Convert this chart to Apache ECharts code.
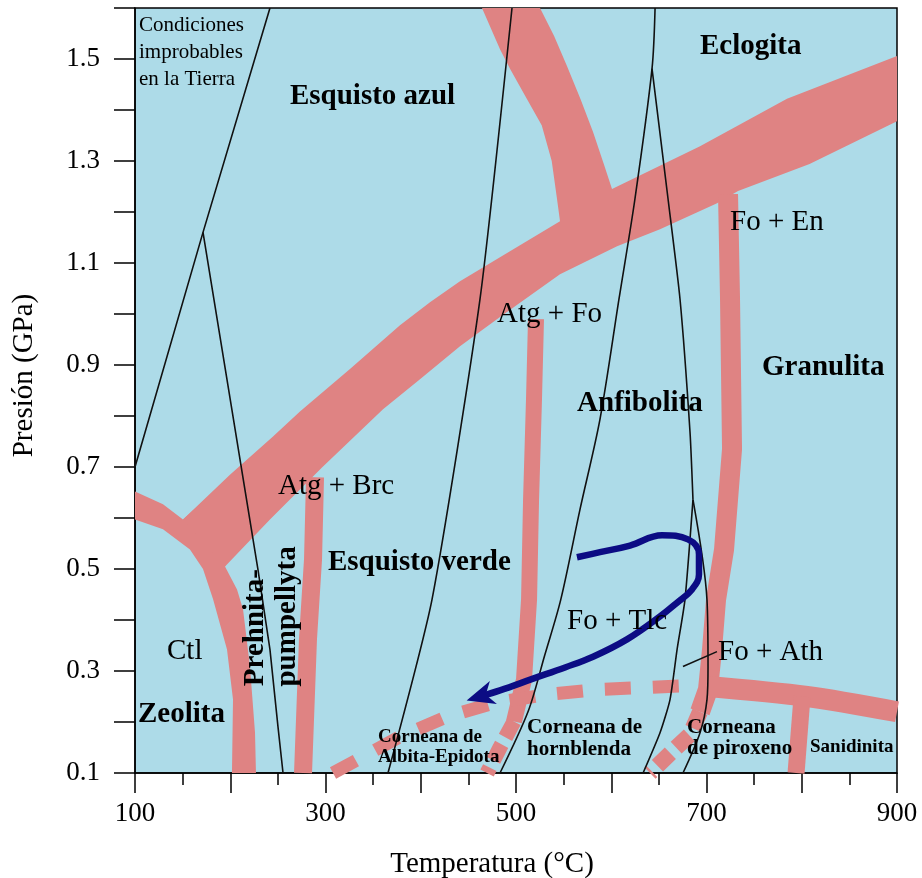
<!DOCTYPE html>
<html><head><meta charset="utf-8">
<script src="https://cdn.jsdelivr.net/npm/echarts@6.0.0/dist/echarts.min.js"></script>
<style>html,body{margin:0;padding:0;background:#fff}#c{width:922px;height:878px}</style>
</head><body><div id="c"></div>
<script>
// ---- data (temperature °C, pressure GPa) ----
const xTicks = [100, 300, 500, 700, 900];
const yTicks = [0.1, 0.3, 0.5, 0.7, 0.9, 1.1, 1.3, 1.5];

// big band: greenschist/blueschist boundary + blueschist/eclogite branch (outline)
const blueschistBand = [[150.4,0.597],[199.7,0.685],[244.9,0.760],[273.2,0.809],[325.7,0.892],[378.2,0.978],[409.7,1.023],[441.2,1.064],[493.7,1.123],[546.2,1.182],
  [543.1,1.225],[537.5,1.300],[527,1.370],[511.6,1.421],[494,1.480],[483.2,1.519],[464.3,1.6],[525.2,1.6],[540,1.545],[553.6,1.486],[568,1.420],[580.9,1.357],[592,1.295],[600.8,1.245],
  [693.2,1.329],[784.5,1.422],[900,1.506],[900,1.378],[808.2,1.294],[733.1,1.241],[711.1,1.217],[651.2,1.166],[606.1,1.133],
  [546.2,1.078],[483.2,0.994],[441.2,0.937],[399.2,0.872],[360.4,0.813],[296.3,0.699],[241.7,0.597],[194.5,0.505]];
// zeolite band (left branch + descending limb)
const zeoliteBand = [[100,0.652],[129.4,0.627],[150.4,0.597],[173.5,0.636],[210.2,0.578],[194.5,0.505],[207.1,0.460],[213.4,0.421],
  [220.7,0.309],[226,0.179],[227,0.10],[201.8,0.10],[202.9,0.244],[196.6,0.342],[181.9,0.441],[171.4,0.50],[157.7,0.538],[129.4,0.578],[100,0.597]];
const atgBrcBand = [[289,0.680],[286.9,0.519],[281.6,0.362],[276.4,0.10]];
const atgFoBand = [[521,0.990],[518.9,0.833],[515.8,0.636],[513.7,0.440],[508.4,0.283],[497.9,0.201]];
const atgFoDashed = [[497.9,0.201],[483.2,0.150],[469.6,0.10]];
const foEnBand = [[722.6,1.235],[724.7,1.029],[726.8,0.735],[718.4,0.538],[710,0.440],[705.8,0.342],[701.6,0.264],[693.2,0.220]];
const sanidiniteTopBand = [[698.4,0.270],[805.5,0.250],[900,0.220]];
const sanidiniteBand = [[800.3,0.250],[794,0.10]];
const pyroxeneDashed = [[693.2,0.220],[682.7,0.175],[663.8,0.142],[640.7,0.10]];
const contactDashed = [[307.9,0.1],[376.1,0.169],[425.5,0.209],[478,0.238],[532.6,0.254],[588.2,0.264],[640.7,0.268],[688,0.272]];

// thin black facies boundaries
const lineK1 = [[100,0.70],[171.4,1.160],[241.7,1.60]];
const lineK2 = [[171.4,1.160],[229.1,0.499],[241.7,0.342],[250.1,0.191],[255.4,0.10]];
const lineK3 = [[365.6,0.10],[411.8,0.44],[462.2,1.029],[495.8,1.60]];
const lineK4 = [[646,1.60],[642.8,1.481],[624.9,1.226],[608.1,1.029],[588.2,0.794],[567.2,0.617],[547,0.440],[530,0.330],[513,0.222],[483.2,0.10]];
const lineK5 = [[642.8,1.481],[659.6,1.226],[672.2,1.029],[682.7,0.768],[685.8,0.636]];
const lineK5a = [[685.8,0.636],[677.4,0.44],[669.1,0.342],[661.7,0.244],[651.2,0.179],[633.4,0.10]];
const lineK5b = [[685.8,0.636],[700.5,0.44],[701.6,0.309],[700.5,0.244],[693.2,0.179],[675.3,0.10]];
const pointerLine = [[675.3,0.309],[711,0.338]];

// P-T path
const ptPath = [[564,0.523],[588.2,0.533],[619.7,0.546],[653.3,0.566],[680.6,0.558],[692.1,0.529],[692.1,0.489],[684.8,0.460],
  [669.1,0.434],[651.2,0.407],[616.5,0.362],[580.9,0.328],[551.5,0.307],[517.9,0.285],[483.2,0.262],[462.2,0.250]];

// labels [T, P, text]
const boldLabels = [[262.7,1.427,'Esquisto azul'],[693.2,1.525,'Eclogita'],[758.3,0.896,'Granulita'],[564.1,0.825,'Anfibolita'],
  [302.6,0.513,'Esquisto verde'],[103.1,0.214,'Zeolita']];
const plainLabels = [[724.7,1.180,'Fo + En'],[480.1,0.999,'Atg + Fo'],[250.1,0.662,'Atg + Brc'],[133.6,0.338,'Ctl'],
  [553.6,0.397,'Fo + Tlc'],[712.1,0.336,'Fo + Ath']];
const noteLabels = [[104.2,1.512,'Condiciones\nimprobables\nen la Tierra']];
const rotatedLabels = [[227,0.385,'Prehnita-'],[260.6,0.407,'pumpellyta']];
const hornfelsLabels = [[355.1,0.150,'Corneana de\nAlbita-Epidota'],[511.6,0.167,'Corneana de\nhornblenda'],[679.5,0.169,'Corneana\nde piroxeno'],[808.7,0.150,'Sanidinita']];

// ---- styling ----
const PINK = '#df8383', BLUE = '#addbe8', NAVY = '#0c0c84';
const FF = '"Liberation Serif","Times New Roman",serif';

function polySeries(points) {
  return {type:'custom', coordinateSystem:'cartesian2d', z:2, silent:true, clip:true, data:[points[0]],
    renderItem:(params, api) => ({type:'polygon', shape:{points: points.map(p => api.coord(p))}, style:{fill:PINK}})};
}
function lineSeries(pts, color, width, dash, z, smooth) {
  return {type:'line', data:pts, symbol:'none', silent:true, z:z, clip:true, smooth: smooth || false,
    lineStyle:{color, width, cap:'butt', join:'round', type: dash || 'solid'}};
}
function labelSeries(items, font, lh, rot) {
  return {type:'custom', coordinateSystem:'cartesian2d', z:20, silent:true, clip:false,
    data: items.map(d => [d[0], d[1]]),
    renderItem:(params, api) => {
      const p = api.coord([api.value(0), api.value(1)]);
      const it = items[params.dataIndex];
      return {type:'text', x:p[0], y:p[1], rotation: rot || 0,
        style:{text:it[2], font, fill:'#000', align: rot ? 'center' : 'left', verticalAlign:'middle', lineHeight: lh}};
    }};
}
// arrowhead at the end of the P-T path, oriented along the last segment
const arrowSeries = {type:'custom', coordinateSystem:'cartesian2d', z:9, silent:true, data:[ptPath[ptPath.length-1]],
  renderItem:(params, api) => {
    const a = api.coord(ptPath[ptPath.length-2]), b = api.coord(ptPath[ptPath.length-1]);
    const dx = b[0]-a[0], dy = b[1]-a[1], L = Math.hypot(dx, dy), ux = dx/L, uy = dy/L, nx = -uy, ny = ux;
    const tip = [b[0]+ux*14, b[1]+uy*14], back = [b[0]-ux*14, b[1]-uy*14], notch = [b[0]-ux*6, b[1]-uy*6];
    return {type:'polygon', shape:{points:[tip, [back[0]+nx*12, back[1]+ny*12], notch, [back[0]-nx*12, back[1]-ny*12]]}, style:{fill:NAVY}};
  }};

const chart = echarts.init(document.getElementById('c'), null, {renderer:'canvas'});
chart.setOption({
  animation:false,
  grid:{left:135, right:25, top:8, bottom:105, show:true, backgroundColor:BLUE, borderColor:'#000', borderWidth:1.5, outerBoundsMode:'none'},
  xAxis:{type:'value', min:100, max:900, interval:100, splitLine:{show:false},
    axisLine:{lineStyle:{color:'#000', width:1.5}},
    axisTick:{length:20, lineStyle:{color:'#000', width:1.5}},
    minorTick:{show:true, splitNumber:2, length:12, lineStyle:{color:'#000', width:1.5}},
    minorSplitLine:{show:false},
    axisLabel:{formatter: v => (xTicks.indexOf(Math.round(v)) >= 0 ? String(Math.round(v)) : ''), fontFamily:FF, fontSize:27, color:'#000', margin:27},
    name:'Temperatura (°C)', nameLocation:'middle', nameGap:77,
    nameTextStyle:{fontFamily:FF, fontSize:29, color:'#000', padding:[0,48,0,0]}},
  yAxis:{type:'value', min:0.1, max:1.6, interval:0.1, splitLine:{show:false},
    axisLine:{lineStyle:{color:'#000', width:1.5}},
    axisTick:{length:21, lineStyle:{color:'#000', width:1.5}},
    axisLabel:{formatter: v => { const k = Math.round(v*10)/10; return yTicks.some(t => Math.abs(t-k) < 1e-6) ? k.toFixed(1) : ''; },
      fontFamily:FF, fontSize:27, color:'#000', margin:35},
    name:'Presión (GPa)', nameLocation:'middle', nameGap:96, nameRotate:90,
    nameTextStyle:{fontFamily:FF, fontSize:29, color:'#000', padding:[0,0,0,30]}},
  series:[
    polySeries(zeoliteBand),
    polySeries(blueschistBand),
    lineSeries(atgBrcBand, PINK, 18, null, 2),
    lineSeries(atgFoBand, PINK, 16, null, 2),
    lineSeries(atgFoDashed, PINK, 15, [18,8], 2),
    lineSeries(foEnBand, PINK, 20, null, 2),
    lineSeries(sanidiniteTopBand, PINK, 21, null, 2, 0.3),
    lineSeries(sanidiniteBand, PINK, 17, null, 2),
    lineSeries(pyroxeneDashed, PINK, 16, [18,8], 2),
    lineSeries(contactDashed, PINK, 13, [26,22], 2),
    lineSeries(lineK1, '#111', 1.6, null, 5),
    lineSeries(lineK2, '#111', 1.6, null, 5),
    lineSeries(lineK3, '#111', 1.6, null, 5, 0.2),
    lineSeries(lineK4, '#111', 1.6, null, 5, 0.3),
    lineSeries(lineK5, '#111', 1.6, null, 5, 0.2),
    lineSeries(lineK5a, '#111', 1.6, null, 5, 0.2),
    lineSeries(lineK5b, '#111', 1.6, null, 5, 0.3),
    lineSeries(pointerLine, '#111', 1.6, null, 5),
    lineSeries(ptPath, NAVY, 6.5, null, 8, 0.4),
    arrowSeries,
    labelSeries(boldLabels, 'bold 29px ' + FF, 32),
    labelSeries(plainLabels, '29px ' + FF, 32),
    labelSeries(noteLabels, '21px ' + FF, 27),
    labelSeries(rotatedLabels, 'bold 29px ' + FF, 32, Math.PI/2),
    labelSeries(hornfelsLabels.slice(0,1), 'bold 19px ' + FF, 20),
    labelSeries(hornfelsLabels.slice(1,2), 'bold 21px ' + FF, 22),
    labelSeries(hornfelsLabels.slice(2,3), 'bold 21px ' + FF, 21),
    labelSeries(hornfelsLabels.slice(3,4), 'bold 19px ' + FF, 20)
  ]
});
</script></body></html>
